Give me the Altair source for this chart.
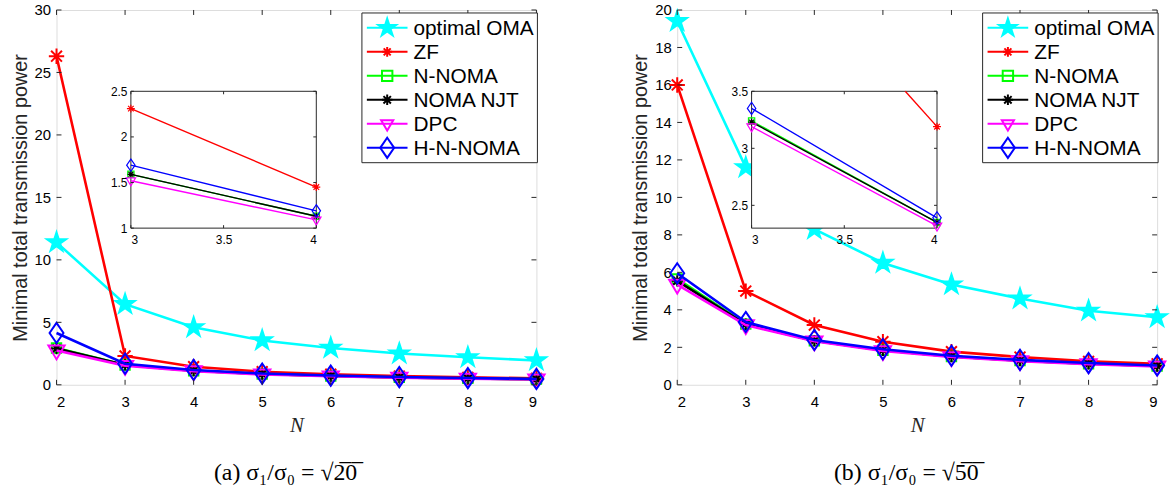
import altair as alt
import pandas as pd

# ---------------------------------------------------------------- data
N_VALUES = [2, 3, 4, 5, 6, 7, 8, 9]
SERIES = ["optimal OMA", "ZF", "N-NOMA", "NOMA NJT", "DPC", "H-N-NOMA"]

# (a) sigma1/sigma0 = sqrt(20)
oma_a = [11.4, 6.45, 4.6, 3.55, 2.95, 2.5, 2.2, 1.95]
zf_a = [26.3, 2.31, 1.45, 1.05, 0.85, 0.7, 0.6, 0.52]
nnoma_a = [2.95, 1.59, 1.13, 0.86, 0.7, 0.59, 0.51, 0.45]
njt_a = [2.9, 1.59, 1.13, 0.86, 0.7, 0.59, 0.51, 0.45]
dpc_a = [2.75, 1.52, 1.09, 0.83, 0.68, 0.57, 0.49, 0.43]
hnoma_a = [4.15, 1.69, 1.19, 0.9, 0.74, 0.62, 0.54, 0.47]

# (b) sigma1/sigma0 = sqrt(50)
oma_b = [19.4, 11.6, 8.3, 6.5, 5.35, 4.6, 3.95, 3.6]
zf_b = [16.0, 5.0, 3.19, 2.3, 1.77, 1.48, 1.25, 1.12]
nnoma_b = [5.65, 3.24, 2.35, 1.84, 1.51, 1.29, 1.12, 1.0]
njt_b = [5.55, 3.23, 2.35, 1.84, 1.51, 1.29, 1.12, 1.0]
dpc_b = [5.35, 3.19, 2.32, 1.8, 1.48, 1.26, 1.1, 0.98]
hnoma_b = [5.95, 3.35, 2.39, 1.9, 1.55, 1.33, 1.16, 1.03]

# axis ticks
Y_TICKS_A = [0, 5, 10, 15, 20, 25, 30]
Y_TICKS_B = [0, 2, 4, 6, 8, 10, 12, 14, 16, 18, 20]
ZOOM_X_TICKS = [3, 3.5, 4]
ZOOM_Y_TICKS_A = [1, 1.5, 2, 2.5]
ZOOM_Y_TICKS_B = [2.5, 3, 3.5]
ZOOM_Y_RANGE_A = [1, 2.5]
ZOOM_Y_RANGE_B = [2.3, 3.5]

# ---------------------------------------------------------------- style
AX = "#262626"
SANS = "Liberation Sans"
SERIF = "Liberation Serif"
W, H = 484, 378
ZX = [75, 262]        # zoom panel pixel span inside the plot area
ZY = [220, 82]

COLORS = ["#00ffff", "#ff0000", "#00ff00", "#000000", "#ff00ff", "#0000ff"]
COLOR = dict(zip(SERIES, COLORS))

STAR = [(0, -1), (0.2245, -0.309), (0.9511, -0.309), (0.3633, 0.118), (0.5878, 0.809),
        (0, 0.382), (-0.5878, 0.809), (-0.3633, 0.118), (-0.9511, -0.309), (-0.2245, -0.309)]
SQUARE = [(-1, -1), (1, -1), (1, 1), (-1, 1)]
TRI_DOWN = [(-1, -0.6), (1, -0.6), (0, 1.1)]
DIAMOND = [(0, -1.45), (1, 0), (0, 1.45), (-1, 0)]
ASTERISK = [[(-1, 0), (1, 0)], [(0, -1), (0, 1)],
            [(-0.707, -0.707), (0.707, 0.707)], [(-0.707, 0.707), (0.707, -0.707)]]


def fmt(v):
    return f"{v:.4f}".rstrip("0").rstrip(".")


def poly(pts, k=1.0):
    return "M" + "L".join(f"{fmt(x * k)},{fmt(y * k)}" for x, y in pts) + "Z"


def strokes(segs, k=1.0):
    return "".join("M" + "L".join(f"{fmt(x * k)},{fmt(y * k)}" for x, y in s) for s in segs)


MARKER = {
    "optimal OMA": poly(STAR),
    "ZF": strokes(ASTERISK),
    "N-NOMA": poly(SQUARE),
    "NOMA NJT": strokes(ASTERISK),
    "DPC": poly(TRI_DOWN),
    "H-N-NOMA": poly(DIAMOND, 0.72),
}
MAIN_SIZE = {"optimal OMA": 420, "ZF": 240, "N-NOMA": 90, "NOMA NJT": 130, "DPC": 270, "H-N-NOMA": 380}
ZOOM_SIZE = {"optimal OMA": 100, "ZF": 64, "N-NOMA": 40, "NOMA NJT": 45, "DPC": 90, "H-N-NOMA": 140}
LEG_SIZE = {"optimal OMA": 360, "ZF": 100, "N-NOMA": 110, "NOMA NJT": 112, "DPC": 150, "H-N-NOMA": 380}

# legend box geometry, measured from the right edge of the plot area
LEG_BOX = (W - 176, W + 1, 3, 154)
LEG_LINE = (W - 171, W - 130)
LEG_TEXT_X = W - 124
LEG_ROWS = [18, 139]


def long_table(cols):
    rows = []
    for s, vals in zip(SERIES, cols):
        for n, v in zip(N_VALUES, vals):
            rows.append({"series": s, "N": n, "power": v})
    return pd.DataFrame(rows)


def panel(cols, y_max, y_ticks, zy_dom, zy_ticks, caption):
    df = long_table(cols)

    # ---- main plot
    xa = alt.Axis(values=N_VALUES, title="N", titleFont=SERIF, titleFontStyle="italic",
                  titleFontSize=21, titleFontWeight="normal", titleColor=AX, titlePadding=5,
                  labelFontSize=15, labelPadding=10, domain=False, ticks=False, grid=False)
    ya = alt.Axis(values=y_ticks, title="Minimal total transmission power", titleFontSize=20,
                  titleFontWeight="normal", titleColor=AX, titlePadding=4,
                  labelFontSize=15, labelPadding=6, domain=False, ticks=False, grid=False)
    xs = alt.Scale(domain=[2, 9], nice=False, zero=False)
    ys = alt.Scale(domain=[0, y_max], nice=False, zero=False)
    X = alt.X("N:Q", scale=xs, axis=xa)
    Y = alt.Y("power:Q", scale=ys, axis=ya)

    main = []
    for s in SERIES:
        base = alt.Chart(df).transform_filter(alt.datum.series == s)
        main.append(base.mark_line(color=COLOR[s], strokeWidth=2.6).encode(x=X, y=Y))
        main.append(base.mark_point(shape=MARKER[s], size=MAIN_SIZE[s], color=COLOR[s], stroke=COLOR[s],
                                    filled=(s == "optimal OMA"), strokeWidth=2, opacity=1)
                    .encode(x=X, y=Y))
    xt = pd.DataFrame({"N": N_VALUES})
    yt = pd.DataFrame({"power": y_ticks})
    tick = dict(color=AX, strokeWidth=1)
    main += [
        alt.Chart(xt).mark_rule(**tick).encode(x=X, y=alt.value(H), y2=alt.value(H - 5)),
        alt.Chart(xt).mark_rule(**tick).encode(x=X, y=alt.value(0), y2=alt.value(5)),
        alt.Chart(yt).mark_rule(**tick).encode(y=Y, x=alt.value(0), x2=alt.value(5)),
        alt.Chart(yt).mark_rule(**tick).encode(y=Y, x=alt.value(W), x2=alt.value(W - 5)),
    ]
    main_layer = alt.layer(*main)

    # ---- zoomed view of N = 3..4
    lo, hi = zy_dom
    zxa = alt.Axis(values=ZOOM_X_TICKS, format=".1~f", orient="bottom", offset=-(H - ZY[0]), title=None,
                   labelFontSize=12, labelPadding=6, domain=False, ticks=False, grid=False, zindex=2)
    zya = alt.Axis(values=zy_ticks, format=".1~f", orient="left", offset=-ZX[0], title=None,
                   labelFontSize=12, labelPadding=4, domain=False, ticks=False, grid=False, zindex=2)
    zxs = alt.Scale(domain=[3, 4], range=ZX, nice=False, zero=False)
    zys = alt.Scale(domain=[lo, hi], range=ZY, nice=False, zero=False)
    ZXe = alt.X("N:Q", scale=zxs, axis=zxa)
    ZYe = alt.Y("power:Q", scale=zys, axis=zya)

    frame = pd.DataFrame({"N": [3], "N2": [4], "power": [lo], "power2": [hi]})
    zoom = [alt.Chart(frame).mark_rect(fill="white", stroke=AX, strokeWidth=1)
            .encode(x=ZXe, x2="N2:Q", y=ZYe, y2="power2:Q")]

    for s in SERIES:
        # segment between N=3 and N=4, cut to the zoom window
        seg = (alt.Chart(df)
               .transform_filter(alt.datum.series == s)
               .transform_filter("datum.N >= 3 && datum.N <= 4")
               .transform_window(v3="first_value(power)", v4="last_value(power)",
                                 sort=[alt.SortField("N")], frame=[None, None])
               .transform_filter("datum.N == 3")
               .transform_calculate(d="datum.v4 - datum.v3")
               .transform_calculate(ta=f"({lo} - datum.v3) / datum.d", tb=f"({hi} - datum.v3) / datum.d")
               .transform_calculate(t0="max(0, min(datum.ta, datum.tb))", t1="min(1, max(datum.ta, datum.tb))")
               .transform_filter("datum.t0 < datum.t1")
               .transform_calculate(xa="3 + datum.t0", xb="3 + datum.t1",
                                    ya="datum.v3 + datum.t0 * datum.d", yb="datum.v3 + datum.t1 * datum.d"))
        zoom.append(seg.mark_rule(color=COLOR[s], strokeWidth=1.4)
                    .encode(x=alt.X("xa:Q", scale=zxs, axis=zxa), x2="xb:Q",
                            y=alt.Y("ya:Q", scale=zys, axis=zya), y2="yb:Q"))
        pts = (alt.Chart(df)
               .transform_filter(alt.datum.series == s)
               .transform_filter(f"datum.N >= 3 && datum.N <= 4 && datum.power >= {lo} && datum.power <= {hi}"))
        zoom.append(pts.mark_point(shape=MARKER[s], size=ZOOM_SIZE[s], color=COLOR[s], stroke=COLOR[s],
                                   filled=(s == "optimal OMA"), strokeWidth=1.2, opacity=1)
                    .encode(x=ZXe, y=ZYe))

    zxt = pd.DataFrame({"N": ZOOM_X_TICKS})
    zyt = pd.DataFrame({"power": zy_ticks})
    zt = dict(color=AX, strokeWidth=1)
    zoom += [
        alt.Chart(zxt).mark_rule(**zt, y2Offset=-3).encode(
            x=ZXe, y=alt.Y(datum=lo, scale=zys, axis=zya), y2=alt.Y2(datum=lo)),
        alt.Chart(zxt).mark_rule(**zt, y2Offset=3).encode(
            x=ZXe, y=alt.Y(datum=hi, scale=zys, axis=zya), y2=alt.Y2(datum=hi)),
        alt.Chart(zyt).mark_rule(**zt, x2Offset=3).encode(
            y=ZYe, x=alt.X(datum=3, scale=zxs, axis=zxa), x2=alt.X2(datum=3)),
        alt.Chart(zyt).mark_rule(**zt, x2Offset=-3).encode(
            y=ZYe, x=alt.X(datum=4, scale=zxs, axis=zxa), x2=alt.X2(datum=4)),
    ]
    zoom_layer = alt.layer(*zoom)

    # ---- legend box: one row per series on a point scale
    sdf = pd.DataFrame({"series": SERIES})
    LY = alt.Y("series:N", scale=alt.Scale(type="point", domain=SERIES, range=LEG_ROWS, padding=0), axis=None)
    legend = [alt.Chart(pd.DataFrame({"box": [1]})).mark_rect(fill="white", stroke=AX, strokeWidth=1)
              .encode(x=alt.value(LEG_BOX[0]), x2=alt.value(LEG_BOX[1]),
                      y=alt.value(LEG_BOX[2]), y2=alt.value(LEG_BOX[3]))]
    for s in SERIES:
        row = alt.Chart(sdf).transform_filter(alt.datum.series == s)
        legend.append(row.mark_rule(color=COLOR[s], strokeWidth=2)
                      .encode(y=LY, x=alt.value(LEG_LINE[0]), x2=alt.value(LEG_LINE[1])))
        legend.append(row.mark_point(shape=MARKER[s], size=LEG_SIZE[s], color=COLOR[s], stroke=COLOR[s],
                                     filled=(s == "optimal OMA"), strokeWidth=2, opacity=1)
                      .encode(y=LY, x=alt.value(sum(LEG_LINE) / 2)))
    legend.append(alt.Chart(sdf).mark_text(font=SANS, fontSize=21, color="black", align="left",
                                           baseline="middle", dy=1)
                  .encode(y=LY, x=alt.value(LEG_TEXT_X), text="series:N"))
    legend_layer = alt.layer(*legend)

    return (alt.layer(main_layer, zoom_layer, legend_layer)
            .resolve_scale(x="independent", y="independent")
            .properties(width=W, height=H,
                        title=alt.TitleParams(caption, orient="bottom", font=SERIF, fontSize=24,
                                              fontWeight="normal", color="black", offset=26,
                                              frame="group", dx=-11)))


left = panel([oma_a, zf_a, nnoma_a, njt_a, dpc_a, hnoma_a], 30, Y_TICKS_A,
             ZOOM_Y_RANGE_A, ZOOM_Y_TICKS_A, "(a)  σ₁/σ₀  =  √2̅0̅")
right = panel([oma_b, zf_b, nnoma_b, njt_b, dpc_b, hnoma_b], 20, Y_TICKS_B,
              ZOOM_Y_RANGE_B, ZOOM_Y_TICKS_B, "(b)  σ₁/σ₀  =  √5̅0̅")

chart = (alt.hconcat(left, right, spacing=79, padding={"left": 9, "top": 0, "right": 0, "bottom": 0})
         .configure_view(stroke=AX, strokeWidth=1)
         .configure_axis(labelFont=SANS, titleFont=SANS, labelColor=AX, titleColor=AX)
         .configure(background="white"))

chart.save("out.html", embed_options={"renderer": "svg", "actions": False})
